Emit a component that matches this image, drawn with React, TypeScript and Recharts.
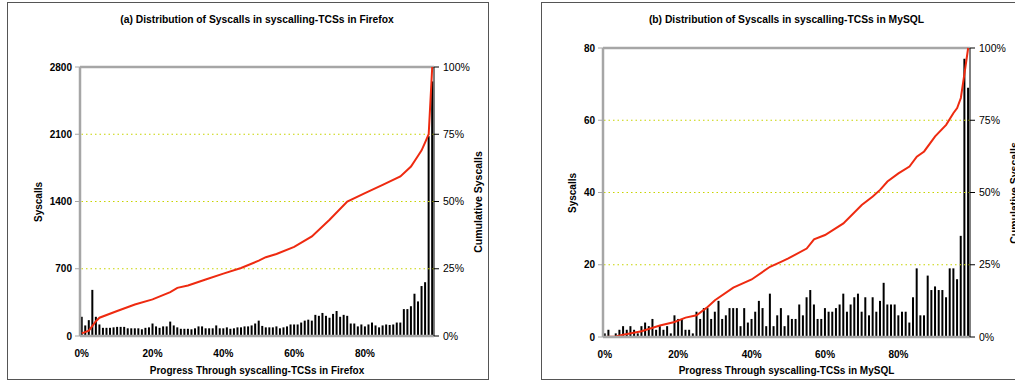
import React from 'react';
import { Bar, ComposedChart, Line, ReferenceLine, XAxis, YAxis } from 'recharts';

// Firefox: syscalls per 1% slice of syscalling-TCSs
const firefoxBars = [
  200, 110, 165, 480, 200, 120, 85, 85, 85, 90,
  95, 95, 95, 80, 80, 80, 80, 70, 85, 90,
  130, 100, 85, 100, 100, 150, 110, 90, 75, 75,
  75, 70, 80, 100, 100, 80, 80, 80, 110, 80,
  80, 90, 75, 80, 90, 90, 100, 100, 110, 130,
  160, 105, 90, 90, 90, 100, 80, 90, 100, 120,
  120, 120, 140, 160, 170, 160, 220, 210, 240, 210,
  190, 230, 260, 200, 220, 210, 130, 130, 100, 120,
  100, 120, 140, 110, 90, 110, 120, 115, 120, 140,
  140, 280, 280, 310, 440, 360, 520, 560, 2080, 2650,
];
// cumulative %, read at these slices
const firefoxCumAt = [0, 2, 4, 5, 10, 15, 20, 25, 27, 30, 35, 40, 45, 50, 52, 55, 60, 65, 70, 75, 80, 85, 90, 93, 95, 96, 97, 98, 99];
const firefoxCum = [1, 2, 5.5, 6.8, 9.3, 11.7, 13.6, 16.3, 17.9, 18.8, 21, 23.2, 25.3, 28, 29.3, 30.5, 33.1, 37, 43.2, 50, 53.1, 56.2, 59.3, 63, 67, 69, 72, 75, 100];

// MySQL
const mysqlBars = [
  1, 2, 0, 1, 2, 3, 2, 3, 2, 1,
  3, 4, 3, 5, 2, 3, 2, 3, 1, 6,
  5, 5, 2, 2, 1, 7, 5, 8, 8, 5,
  7, 10, 5, 6, 8, 8, 8, 3, 8, 4,
  5, 7, 10, 8, 3, 12, 3, 6, 8, 3,
  6, 5, 5, 9, 6, 11, 13, 9, 5, 5,
  8, 7, 7, 8, 9, 12, 7, 9, 11, 12,
  7, 11, 6, 11, 7, 10, 15, 9, 9, 9,
  6, 7, 7, 4, 11, 19, 6, 6, 17, 13,
  14, 13, 13, 11, 19, 19, 16, 28, 77, 69,
];
const mysqlCumAt = [0, 3, 5, 10, 15, 19, 22, 25, 28, 30, 35, 40, 45, 48, 50, 55, 57, 60, 65, 70, 73, 75, 77, 80, 83, 85, 87, 90, 93, 95, 96, 97, 98, 99];
const mysqlCum = [0, 0.2, 0.8, 2, 4, 5.2, 6.7, 7.5, 10.4, 12.7, 17.1, 19.9, 24.3, 26, 27.2, 30.6, 33.8, 35.3, 39.3, 45.7, 48.6, 50.9, 53.8, 56.6, 59, 62.4, 64.2, 69.4, 73.4, 77.5, 79.2, 82.7, 91.2, 100];

const pctTicks = [0, 25, 50, 75, 100];
const firefoxTicks = [0, 700, 1400, 2100, 2800];
const mysqlTicks = [0, 20, 40, 60, 80];

const FONT = 'Arial, "Liberation Sans", sans-serif';
const GRID = '#c8d400';
const AXIS_GRAY = '#a6a6a6';

function build(bars: number[], at: number[], cum: number[]) {
  return bars.map((v, i) => {
    const k = at.indexOf(i);
    return { p: i, v, c: k >= 0 ? cum[k] : null };
  });
}

function Panel({
  left, width, title, xTitle, data, ticks, m,
}: {
  left: number; width: number; title: string; xTitle: string;
  data: any[]; ticks: number[];
  m: { top: number; yl: number; yr: number; xh: number; sy: number };
}) {
  const H = 376;
  const max = ticks[ticks.length - 1];
  const plotL = m.yl, plotR = width - m.yr;
  const plotMid = m.top + (H - m.top - m.xh) / 2;
  const bold = { fontFamily: FONT, fontWeight: 700, fontSize: 10, fill: '#000' };
  return (
    <div style={{ position: 'absolute', left, top: 2, width, height: H, border: '1px solid #555' }}>
      <div style={{ position: 'absolute', left: 0, top: 11, width: plotL + plotR, textAlign: 'center', font: `bold 10.3px ${FONT}` }}>
        {title}
      </div>
      <ComposedChart width={width} height={H} data={data}
        margin={{ top: m.top, right: 0, bottom: 0, left: 0 }} barCategoryGap="20%">
        <XAxis dataKey="p" interval={19} tickFormatter={(v) => `${v}%`}
          height={m.xh} tickLine={false} tickMargin={8}
          axisLine={{ stroke: AXIS_GRAY, strokeWidth: 2.5 }} tick={bold} />
        <YAxis yAxisId="l" domain={[0, max]} ticks={ticks} width={m.yl} interval={0}
          axisLine={{ stroke: AXIS_GRAY, strokeWidth: 2.5 }} tickLine={{ stroke: AXIS_GRAY }}
          tickSize={5} tickMargin={3} tick={bold} />
        <YAxis yAxisId="r" orientation="right" domain={[0, 100]} ticks={pctTicks} width={m.yr} interval={0}
          tickFormatter={(v) => `${v}%`} axisLine={{ stroke: '#000' }} tickLine={{ stroke: '#000' }}
          tickSize={5} tickMargin={4}
          tick={{ fontFamily: FONT, fontSize: 10.5, fill: '#000' }} />
        {pctTicks.slice(1, 4).map((t) => (
          <ReferenceLine key={t} yAxisId="r" y={t} stroke={GRID} strokeDasharray="1.5 3" strokeWidth={1.2} />
        ))}
        <ReferenceLine yAxisId="l" y={max} stroke={AXIS_GRAY} strokeWidth={2.5} />
        <Bar yAxisId="l" dataKey="v" fill="#000" isAnimationActive={false} />
        <Line yAxisId="r" dataKey="c" type="linear" stroke="#ee2a10" strokeWidth={2}
          dot={false} connectNulls isAnimationActive={false} />
      </ComposedChart>
      <div style={{ position: 'absolute', left: 0, top: H - 14, width: plotL + plotR, textAlign: 'center', font: `bold 10px ${FONT}` }}>
        {xTitle}
      </div>
      <div style={{ position: 'absolute', left: plotL - m.sy, top: plotMid, transform: 'translate(-50%, -50%) rotate(-90deg)', font: `bold 10px ${FONT}`, whiteSpace: 'nowrap' }}>
        Syscalls
      </div>
      <div style={{ position: 'absolute', left: plotR + 44, top: plotMid, transform: 'translate(-50%, -50%) rotate(-90deg)', font: `bold 10.5px ${FONT}`, whiteSpace: 'nowrap' }}>
        Cumulative Syscalls
      </div>
    </div>
  );
}

export default function App() {
  const ff = build(firefoxBars, firefoxCumAt, firefoxCum);
  const my = build(mysqlBars, mysqlCumAt, mysqlCum);
  return (
    <div style={{ position: 'absolute', left: 0, top: 0, width: 1015, height: 381, overflow: 'hidden', background: '#fff' }}>
      <Panel left={7} width={480} data={ff} ticks={firefoxTicks}
        title="(a) Distribution of Syscalls in syscalling-TCSs in Firefox"
        xTitle="Progress Through syscalling-TCSs in Firefox"
        m={{ top: 64, yl: 72, yr: 54, xh: 43, sy: 42 }} />
      <Panel left={541} width={480} data={my} ticks={mysqlTicks}
        title="(b) Distribution of Syscalls in syscalling-TCSs in MySQL"
        xTitle="Progress Through syscalling-TCSs in MySQL"
        m={{ top: 45, yl: 61, yr: 52, xh: 42, sy: 31 }} />
    </div>
  );
}
